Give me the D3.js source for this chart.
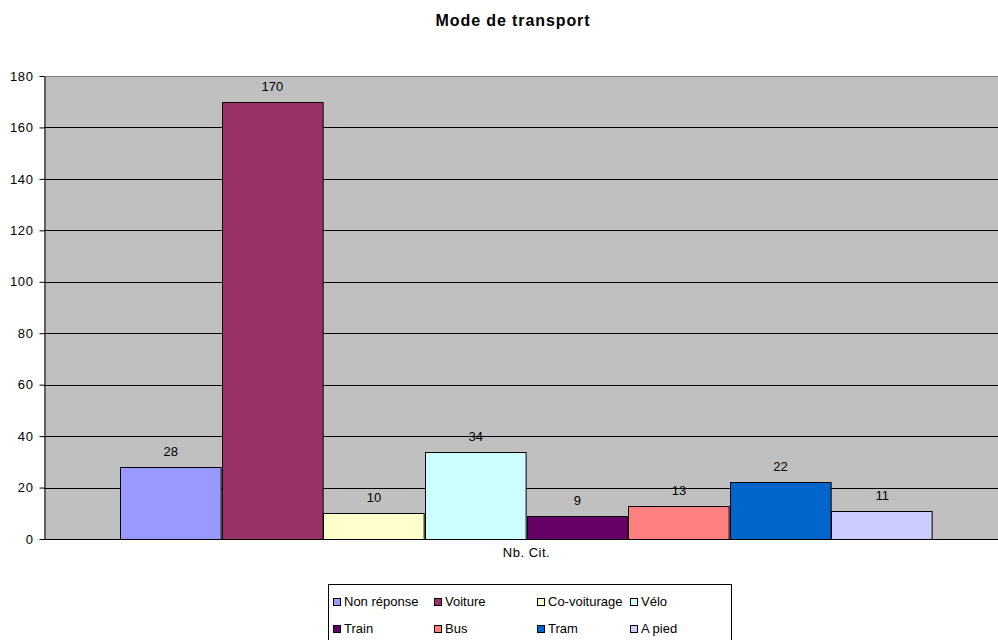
<!DOCTYPE html>
<html>
<head>
<meta charset="utf-8">
<script src="https://cdn.jsdelivr.net/npm/d3@7"></script>
<style>
  body { margin: 0; background: #fff; }
  text { font-family: Arial, "Liberation Sans", sans-serif; fill: #000; }
</style>
</head>
<body>
<div id="chart"></div>
<script>
// data
var category = "Nb. Cit.";
var series = ["Non réponse", "Voiture", "Co-voiturage", "Vélo", "Train", "Bus", "Tram", "A pied"];
var values = [28, 170, 10, 34, 9, 13, 22, 11];
var colors = ["#9999FF", "#993366", "#FFFFCC", "#CCFFFF", "#660066", "#FF8080", "#0066CC", "#CCCCFF"];
var yTicks = [0, 20, 40, 60, 80, 100, 120, 140, 160, 180];

var width = 998, height = 640;
var plot = {left: 44, right: 1009, top: 76, bottom: 539};

var svg = d3.select("#chart")
    .append("svg")
    .attr("width", width)
    .attr("height", height);

// title
svg.append("text")
    .attr("x", 513)
    .attr("y", 26)
    .attr("text-anchor", "middle")
    .attr("font-weight", "bold")
    .attr("font-size", "16px")
    .attr("letter-spacing", "0.9px")
    .text("Mode de transport");

// scales
const x0 = d3.scaleBand()
    .domain([category])
    .range([plot.left, plot.right])
    .paddingInner(0)
    .paddingOuter(0.0935);

const x1 = d3.scaleBand()
    .domain(series)
    .range([x0(category), x0(category) + x0.bandwidth()]);

const y = d3.scaleLinear()
    .domain([0, 180])
    .range([plot.bottom, plot.top]);

// plot background
svg.append("rect")
    .attr("x", plot.left)
    .attr("y", plot.top)
    .attr("width", plot.right - plot.left)
    .attr("height", plot.bottom - plot.top)
    .attr("fill", "#C0C0C0");

// grid lines
svg.append("g")
    .selectAll("line")
    .data(yTicks.slice(1))
    .join("line")
    .attr("x1", plot.left)
    .attr("x2", plot.right)
    .attr("y1", d => Math.round(y(d)) + 0.5)
    .attr("y2", d => Math.round(y(d)) + 0.5)
    .attr("stroke", d => d === 180 ? "#808080" : "#000")
    .attr("stroke-width", 1);

// bars
var data = series.map((s, i) => ({name: s, score: values[i], color: colors[i]}));

svg.append("g")
    .selectAll("rect")
    .data(data)
    .join("rect")
    .attr("x", d => Math.round(x1(d.name)) + 0.5)
    .attr("y", d => Math.round(y(d.score)) + 0.5)
    .attr("width", x1.bandwidth() - 1)
    .attr("height", d => Math.round(y(0)) - Math.round(y(d.score)))
    .attr("fill", d => d.color)
    .attr("stroke", "#000")
    .attr("stroke-width", 1);

// value labels
svg.append("g")
    .selectAll("text")
    .data(data)
    .join("text")
    .attr("x", d => x1(d.name) + x1.bandwidth() / 2)
    .attr("y", d => y(d.score) - 11)
    .attr("text-anchor", "middle")
    .attr("font-size", "13px")
    .text(d => d.score);

// y axis
function yAxis(g) {
    g.attr("transform", `translate(${plot.left + 0.5},0)`)
        .call(d3.axisLeft(y).tickValues(yTicks).tickSize(5).tickPadding(6).tickSizeOuter(0))
        .attr("font-size", "13px")
        .attr("font-family", "Arial, 'Liberation Sans', sans-serif");
    g.select(".domain").attr("stroke", "#000");
    g.selectAll(".tick line").attr("stroke", "#000");
    g.selectAll(".tick text").attr("fill", "#000").attr("letter-spacing", "0.6px");
}

// x axis
function xAxis(g) {
    g.attr("transform", `translate(0,${Math.round(y(0)) + 0.5})`)
        .call(d3.axisBottom(x0).tickSize(0).tickPadding(8))
        .attr("font-size", "13px")
        .attr("font-family", "Arial, 'Liberation Sans', sans-serif");
    g.select(".domain").attr("stroke", "#000").attr("d", `M${plot.left},0H${plot.right}`);
    g.selectAll(".tick text").attr("fill", "#000").attr("letter-spacing", "0.5px");
}

svg.append("g").call(xAxis);
svg.append("g").call(yAxis);

// legend
var legend = svg.append("g");
legend.append("rect")
    .attr("x", 328.5)
    .attr("y", 584.5)
    .attr("width", 403)
    .attr("height", 70)
    .attr("fill", "#fff")
    .attr("stroke", "#000");

var colX = [333, 434, 537, 630],
    rowY = [606, 633];

var items = legend.selectAll("g")
    .data(data)
    .join("g")
    .attr("transform", (d, i) => `translate(${colX[i % 4]},${rowY[Math.floor(i / 4)]})`);

items.append("rect")
    .attr("x", 0.5)
    .attr("y", -7.5)
    .attr("width", 7)
    .attr("height", 7)
    .attr("fill", d => d.color)
    .attr("stroke", "#000");

items.append("text")
    .attr("x", 11)
    .attr("y", 0)
    .attr("font-size", "13px")
    .text(d => d.name);
</script>
</body>
</html>
